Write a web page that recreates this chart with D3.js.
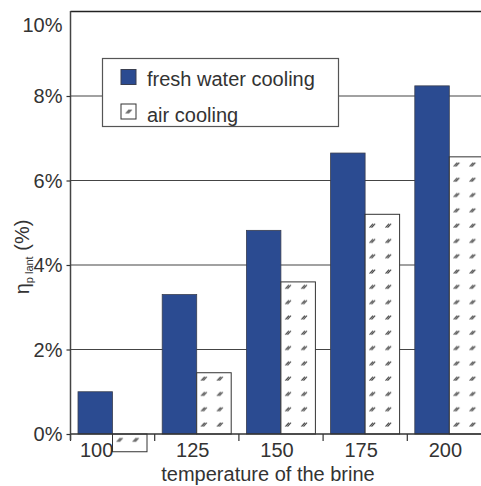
<!DOCTYPE html>
<html>
<head>
<meta charset="utf-8">
<script src="https://cdn.jsdelivr.net/npm/d3@7"></script>
<style>
  html, body { margin: 0; padding: 0; background: #fff; }
  svg { display: block; font-family: "Liberation Sans", Arial, sans-serif; }
</style>
</head>
<body>
<svg id="chart" width="481" height="486"></svg>
<script>
// Plant efficiency by brine temperature, two cooling options
const categories = ["100", "125", "150", "175", "200"];
const freshWater = [1.0, 3.3, 4.82, 6.65, 8.24];
const airCooling = [-0.42, 1.45, 3.6, 5.2, 6.56];
const yTicks = [0, 2, 4, 6, 8, 10];
const seriesNames = ["fresh water cooling", "air cooling"];

const svg = d3.select("#chart");
const textColor = "#333";
const blue = "#2b4b91";

const plotLeft = 70.5, plotRight = 481, plotTop = 11.5, plotBottom = 434;
const bandWidth = 84.2;

const x = d3.scaleBand()
  .domain(categories)
  .range([plotLeft, plotLeft + bandWidth * categories.length])
  .paddingInner(0).paddingOuter(0);
const y = d3.scaleLinear().domain([0, 10]).range([plotBottom, plotTop]);

const barW = 34.5, barOffset = 7.5;

// hatch patterns for the air-cooled bars (one per bar so the marks sit in columns inside each bar)
const defs = svg.append("defs");
function addHatch(id, px, py) {
  const p = defs.append("pattern")
    .attr("id", id)
    .attr("patternUnits", "userSpaceOnUse")
    .attr("x", px).attr("y", py)
    .attr("width", 16).attr("height", 15.3);
  p.append("rect").attr("width", 16).attr("height", 15.3).attr("fill", "#fff");
  p.append("path")
    .attr("d", "M0.5,4.5 L4,0.5 M2.5,4.5 L6,0.5")
    .attr("stroke", "#3a3a3a").attr("stroke-width", 1.1).attr("fill", "none");
}
categories.forEach((c, i) => addHatch("hatch" + i, x(c) + barOffset + barW + 4, 162));
addHatch("hatchLegend", 125.5, 109);

// gridlines
svg.append("g").selectAll("line")
  .data(yTicks.filter(t => t > 0))
  .join("line")
  .attr("x1", plotLeft).attr("x2", plotRight)
  .attr("y1", d => y(d)).attr("y2", d => y(d))
  .attr("stroke", d => d === 10 ? "#222" : "#444")
  .attr("stroke-width", d => d === 10 ? 1.3 : 1.2);

// fresh water bars
svg.append("g").selectAll("rect")
  .data(freshWater)
  .join("rect")
  .attr("x", (d, i) => x(categories[i]) + barOffset)
  .attr("width", barW)
  .attr("y", d => y(Math.max(0, d)))
  .attr("height", d => Math.abs(y(d) - y(0)))
  .attr("fill", blue)
  .attr("stroke", "#3a3f50").attr("stroke-width", 0.8);

// air cooling bars
svg.append("g").selectAll("rect")
  .data(airCooling)
  .join("rect")
  .attr("x", (d, i) => x(categories[i]) + barOffset + barW)
  .attr("width", barW)
  .attr("y", d => y(Math.max(0, d)))
  .attr("height", d => Math.abs(y(d) - y(0)))
  .attr("fill", (d, i) => "url(#hatch" + i + ")")
  .attr("stroke", "#333").attr("stroke-width", 1);

// zero line and category separators
svg.append("line")
  .attr("x1", plotLeft).attr("x2", plotRight)
  .attr("y1", y(0)).attr("y2", y(0))
  .attr("stroke", "#333").attr("stroke-width", 1.3);
svg.append("g").selectAll("line")
  .data(categories)
  .join("line")
  .attr("x1", d => x(d)).attr("x2", d => x(d))
  .attr("y1", y(0)).attr("y2", y(0) + 7)
  .attr("stroke", "#333").attr("stroke-width", 1.2);

// y axis
const yAxis = d3.axisLeft(y).tickValues(yTicks).tickSize(4).tickPadding(4)
  .tickFormat(d => d + "%");
const yg = svg.append("g").attr("transform", `translate(${plotLeft},0)`).call(yAxis);
yg.select(".domain").attr("stroke", "#444").attr("stroke-width", 1.5)
  .attr("d", `M0,${plotTop - 0.5}V${plotBottom + 6}`);
yg.selectAll(".tick line").attr("stroke", "#333").attr("stroke-width", 1.2);
yg.selectAll(".tick text")
  .attr("fill", textColor)
  .style("font-size", "20px")
  .style("font-family", '"Liberation Sans", Arial, sans-serif')
  .attr("dy", d => d === 10 ? "1.0em" : "0.34em");
yg.selectAll(".tick").filter(d => d === 10).select("line").remove();

// category labels
const labelShift = [-16, -4, -4, -4, -4];
svg.append("g").selectAll("text")
  .data(categories)
  .join("text")
  .attr("x", (d, i) => x(d) + x.bandwidth() / 2 + labelShift[i])
  .attr("y", 457)
  .attr("text-anchor", "middle")
  .attr("fill", textColor)
  .style("font-size", "20px")
  .text(d => d);

// axis titles
svg.append("text")
  .attr("x", 268).attr("y", 481)
  .attr("text-anchor", "middle")
  .attr("fill", textColor)
  .style("font-size", "20px")
  .text("temperature of the brine");

const yTitle = svg.append("text")
  .attr("transform", "translate(29,257) rotate(-90)")
  .attr("text-anchor", "middle")
  .attr("fill", textColor)
  .style("font-size", "20px");
yTitle.append("tspan").text("η");
yTitle.append("tspan").attr("dy", 4).style("font-size", "11px").text("p lant");
yTitle.append("tspan").attr("dy", -4).text(" (%)");

// legend
const legend = svg.append("g");
legend.append("rect")
  .attr("x", 102.5).attr("y", 58.5).attr("width", 236).attr("height", 68)
  .attr("fill", "#fff").attr("stroke", "#555").attr("stroke-width", 1.2);
const legendRows = [
  { name: seriesNames[0], fill: blue, stroke: "#3a3f50", sy: 69.5, ty: 86 },
  { name: seriesNames[1], fill: "url(#hatchLegend)", stroke: "#333", sy: 104, ty: 121.5 }
];
legend.selectAll("rect.sw")
  .data(legendRows)
  .join("rect")
  .attr("class", "sw")
  .attr("x", 121).attr("y", d => d.sy)
  .attr("width", 15).attr("height", 15)
  .attr("fill", d => d.fill).attr("stroke", d => d.stroke).attr("stroke-width", 1);
legend.selectAll("text")
  .data(legendRows)
  .join("text")
  .attr("x", 147).attr("y", d => d.ty)
  .attr("fill", textColor)
  .style("font-size", "20px")
  .text(d => d.name);
</script>
</body>
</html>
